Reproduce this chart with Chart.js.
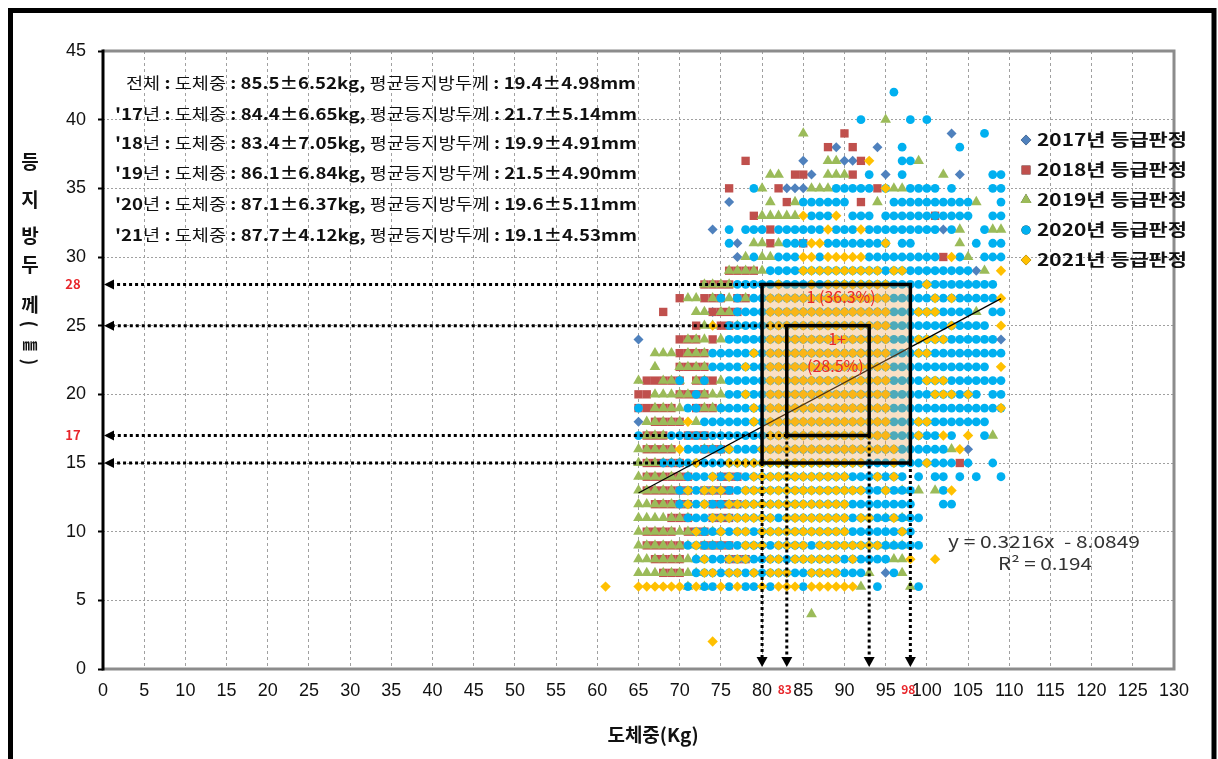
<!DOCTYPE html>
<html><head><meta charset="utf-8">
<script src="https://cdn.jsdelivr.net/npm/chart.js@4.4.1/dist/chart.umd.min.js"></script>
<style>html,body{margin:0;padding:0;background:#fff;}canvas{display:block;}</style>
</head><body>
<canvas id="c" width="1218" height="759"></canvas>
<script>
// ---------- data (x = 도체중 kg, rows "y(mm): x values / runs of x") ----------
const seriesNames = ['2017년 등급판정','2018년 등급판정','2019년 등급판정','2020년 등급판정','2021년 등급판정'];
const d2017 = [
 "7: 95","16: 105","18: 65","24: 65 109","26: 74","29: 106","30: 77","31: 77",
 "32: 74 102","34: 76","35: 83-85","36: 86 95 104","37: 85 90-91","38: 89 94","39: 103"
];
const d2018 = [
 "7: 68-70","8: 67-70 76-78","9: 66-70 73-76","10: 66-69 71-73","11: 69-71 74-76",
 "12: 67-71 74-77","13: 66-71 73-76","14: 66-71 75-77","15: 66-70 104","16: 66-69 73-75",
 "17: 66-68 71-73","18: 67-70","19: 65-69 72-74","20: 65-66 70-73","21: 66-70 72-74",
 "22: 70-73","23: 70-73","24: 70-72 74","25: 72 75-76","26: 68 74-77","27: 70 73-75 77-78",
 "28: 73-76","29: 76-79","30: 102","31: 81 85","32: 81","33: 79 101","34: 83 92",
 "35: 76 82 94","36: 84-85 91","37: 78 92","38: 88 91","39: 90"
];
const d2019 = [
 "4: 86","6: 71 73 92 98","7: 65-72 93 97","8: 65-72 96-97","9: 65-71 73-75 95-97",
 "10: 65-71 73-74","11: 65-71 95 97","12: 65-70","13: 65-70 97 99 101","14: 65-71",
 "15: 65-70","16: 65-69 73-75 103","17: 66-68 108","18: 66-70 72","19: 67-70 73-75",
 "20: 67-71 73-75","21: 65 68-70 72-73 75","22: 67 70-73","23: 67-69 71-73","24: 71-73 75",
 "25: 73-74 77","26: 72-73 75-76 106","27: 71-72 74-76 78","28: 73-76","29: 76-80 107",
 "30: 78 80-81 105","31: 79-80 82 104","32: 104 108-109","33: 80-84","34: 81 84 94 106",
 "35: 80 86-88 96-97","36: 81-82 88-90 102","37: 88-89 99","39: 85","40: 95"
];
const d2020 = [
 "6: 71 73-74 76 78-79 81 85 94 99","7: 72-92 96","8: 72-95","9: 71-99","10: 72-98","11: 71-99",
 "12: 70-98 102-103","13: 70-98 102","14: 71-97 99 101-102 104 106 109","15: 68-103 105 108",
 "16: 71-102","17: 65 69-101 103 107","18: 73-107","19: 65 71-72 75-109","20: 72 76-106 108-109",
 "21: 70 73 76-109","22: 74-107","23: 74-109","24: 76-108","25: 76-107","26: 77-105 108-109",
 "27: 75 77 79-108","28: 77-108","29: 81-105","30: 79 82-84 87 93-101 104 107-109",
 "31: 76 83-85 88-95 97-98 106 108-109","32: 76 78-80 82-87 89-91 93-101 103 107",
 "33: 86-88 91-93 95-105 108-109","34: 85-90 96-105 109","35: 79 89-93 95 98-101 103 108-109",
 "36: 93 97 108-109","37: 97-98","38: 97 104","39: 107","40: 92 98 100","42: 96"
];
const d2021 = [
 "2: 74","6: 61 65-70 72 75 77 80 82-84 86-91","7: 73-74 76-77 79 81-83 86-89",
 "8: 73 76-78 81-82 84-89 91 98 101","9: 72 78-80 82-85 87-94","10: 72 75 77-78 80-90 97",
 "11: 74-81 83-90 92-93 96","12: 71 73 76-90","13: 71 73-75 78-92 95 103","14: 74 76 79-90 94 96",
 "15: 72 76-92 96 100","16: 70 76 80-96 104","17: 81-95 99 102 105","18: 71 79 81-95 99-100",
 "19: 79 81-95 109","20: 78 81-95 101-103 105","21: 81-95 100-102","22: 78 81-95 109",
 "23: 79 81-95 99-100","24: 81-95 99-102","25: 74 81-95 103 109","26: 81-95 99-101",
 "27: 81-95 101 103 109","28: 82 86 88-95 100","29: 85-94 96-97 109","30: 85-86 88-92 103",
 "31: 86-87 95","32: 88 92","33: 85 89","35: 95","37: 93"
];
const trendSlope = 0.3216, trendIntercept = -8.0849;
const trendX = [65, 109];
const summaryLines = [
 "전체 : 도체중 : 85.5±6.52kg, 평균등지방두께 : 19.4±4.98mm",
 "'17년 : 도체중 : 84.4±6.65kg, 평균등지방두께 : 21.7±5.14mm",
 "'18년 : 도체중 : 83.4±7.05kg, 평균등지방두께 : 19.9±4.91mm",
 "'19년 : 도체중 : 86.1±6.84kg, 평균등지방두께 : 21.5±4.90mm",
 "'20년 : 도체중 : 87.1±6.37kg, 평균등지방두께 : 19.6±5.11mm",
 "'21년 : 도체중 : 87.7±4.12kg, 평균등지방두께 : 19.1±4.53mm"
];
const gradeBoxes = [ {x0:80,x1:98,y0:15,y1:28}, {x0:83,x1:93,y0:17,y1:25} ];
const gradeLabels = [ ["1 (36.3%)"], ["1+","(28.5%)"] ];
const hArrows = [[28,80],[25,83],[17,83],[15,80]];   // [y, from x]
const vArrows = [[80,15],[83,17],[93,17],[98,15]];   // [x, from y]
const redYTicks = [28,17];
const redXTicks = [83,98];
const yTitleChars = ['등','지','방','두','께'];
const yTitleUnit = ['(','㎜',')'];
const xTitle = '도체중(Kg)';
const eqLines = ['y = 0.3216x  - 8.0849','R² = 0.194'];

// ---------- styles ----------
const colors = ['#4F81BD','#C0504D','#9BBB59','#00B0F0','#FFC000'];
const styles = ['rectRot','rect','triangle','circle','rectRot'];
const radii = [5,5.9,6.2,4.4,5.2];
const KR = '"Noto Sans CJK KR", "Noto Sans", sans-serif';

function parseRows(rows){
  const pts = [];
  rows.forEach(r=>{
    const [ys, xs] = r.split(':');
    const y = Number(ys);
    xs.trim().split(/\s+/).forEach(t=>{
      if(t.includes('-')){ const [a,b]=t.split('-').map(Number); for(let x=a;x<=b;x++) pts.push({x,y}); }
      else pts.push({x:Number(t),y});
    });
  });
  return pts;
}
const allRows = [d2017,d2018,d2019,d2020,d2021];
const datasets = allRows.map((rows,i)=>({
  type:'scatter', label:seriesNames[i], data:parseRows(rows),
  pointStyle:styles[i], pointRadius:radii[i], pointBackgroundColor:colors[i],
  pointBorderWidth:0, borderWidth:0, order:5-i
}));
datasets.push({
  type:'line', label:'trend', data:trendX.map(x=>({x, y:trendSlope*x+trendIntercept})),
  borderColor:'#000', borderWidth:1.3, pointRadius:0, fill:false, order:0
});

function drawFitted(ctx, text, x, y, targetW, size, weightFn){
  const segs = text.split(/([\uAC00-\uD7A3]+)/).filter(s=>s.length);
  let total = 0;
  const ws = segs.map(s=>{ ctx.font = weightFn(s)+' '+size+'px '+KR; const w = ctx.measureText(s).width; total += w; return w; });
  const sc = targetW/total;
  ctx.save(); ctx.translate(x,y); ctx.scale(sc,1);
  let cx = 0;
  segs.forEach((s,i)=>{ ctx.font = weightFn(s)+' '+size+'px '+KR; ctx.fillText(s,cx,0); cx += ws[i]; });
  ctx.restore();
}
function dotted(ctx,x1,y1,x2,y2){
  ctx.save(); ctx.strokeStyle='#000'; ctx.lineWidth=3; ctx.setLineDash([3,3]);
  ctx.beginPath(); ctx.moveTo(x1,y1); ctx.lineTo(x2,y2); ctx.stroke(); ctx.restore();
}
function head(ctx,tx,ty,dir){
  ctx.beginPath();
  if(dir==='left'){ ctx.moveTo(tx,ty); ctx.lineTo(tx+10,ty-5); ctx.lineTo(tx+10,ty+5); }
  else { ctx.moveTo(tx,ty); ctx.lineTo(tx-5.5,ty-10); ctx.lineTo(tx+5.5,ty-10); }
  ctx.closePath(); ctx.fillStyle='#000'; ctx.fill();
}

const overlay = {
  id:'overlay',
  afterDraw(chart){
    const {ctx} = chart; const xs = chart.scales.x, ys = chart.scales.y;
    const px = v=>xs.getPixelForValue(v), py = v=>ys.getPixelForValue(v);
    const ca = chart.chartArea;
    ctx.save();
    // grade box fill (outer)
    const ob = gradeBoxes[0];
    ctx.fillStyle = 'rgba(240,160,70,0.32)';
    ctx.fillRect(px(ob.x0), py(ob.y1), px(ob.x1)-px(ob.x0), py(ob.y0)-py(ob.y1));
    // arrows
    hArrows.forEach(([y,x0])=>{ dotted(ctx, px(x0), py(y), ca.left+10, py(y)); head(ctx, ca.left+1, py(y), 'left'); });
    vArrows.forEach(([x,y0])=>{ dotted(ctx, px(x), py(y0), px(x), ca.bottom-10); head(ctx, px(x), ca.bottom-2, 'down'); });
    // box borders
    ctx.strokeStyle='#000'; ctx.lineWidth=3.5;
    gradeBoxes.forEach(b=>{ ctx.strokeRect(px(b.x0), py(b.y1), px(b.x1)-px(b.x0), py(b.y0)-py(b.y1)); });
    // box labels
    ctx.fillStyle='#E8262B'; ctx.font='16px '+KR; ctx.textAlign='center'; ctx.textBaseline='middle';
    ctx.fillText(gradeLabels[0][0], px(89.6), py(27.1));
    ctx.fillText(gradeLabels[1][0], px(89.1), py(24.0));
    ctx.fillText(gradeLabels[1][1], px(88.9), py(22.1));
    // red tick labels
    ctx.font='bold 13px '+KR;
    redYTicks.forEach(v=>ctx.fillText(String(v), 73, py(v)));
    ctx.font='bold 12px '+KR;
    redXTicks.forEach(v=>ctx.fillText(String(v), px(v)-2, 689));
    // plot frame
    ctx.lineWidth=3; ctx.strokeStyle='#8c8c8c';
    ctx.beginPath(); ctx.moveTo(ca.left, ca.top); ctx.lineTo(ca.right, ca.top); ctx.lineTo(ca.right, ca.bottom); ctx.lineTo(ca.left, ca.bottom); ctx.stroke();
    ctx.strokeStyle='#000';
    ctx.beginPath(); ctx.moveTo(ca.left, ca.top-1.5); ctx.lineTo(ca.left, ca.bottom+1.5); ctx.stroke();
    // summary text
    ctx.fillStyle='#111'; ctx.textAlign='left'; ctx.textBaseline='middle';
    const ly = [83,114,143,173,204,235];
    summaryLines.forEach((t,i)=>{
      drawFitted(ctx, t, i===0?126:115, ly[i], i===0?510:522, 16, s=>/[\uAC00-\uD7A3]/.test(s)?'normal':'bold');
    });
    // legend
    const legY = [140,170,200,230,260];
    seriesNames.forEach((n,i)=>{
      Chart.helpers.drawPoint(ctx, {pointStyle:styles[i], radius:[5.2,6.2,6.2,4.6,5.2][i], borderWidth:0, rotation:0}, 1026, legY[i]);
      ctx.fillStyle=colors[i]; ctx.fill();
      ctx.fillStyle='#111';
      drawFitted(ctx, n, 1037, legY[i], 150, 17, ()=> 'bold');
    });
    // equation
    ctx.fillStyle='#333';
    drawFitted(ctx, eqLines[0], 948, 542, 192, 17, ()=> 'normal');
    drawFitted(ctx, eqLines[1], 998, 564, 94, 17, ()=> 'normal');
    // axis titles
    ctx.fillStyle='#111'; ctx.textAlign='center';
    const yc = [162,200,236,265,305];
    yTitleChars.forEach((c,i)=>{ ctx.font = 'bold 19px '+KR; ctx.fillText(c, 30, yc[i]); });
    // unit: parentheses rotated to sit vertically
    ctx.font='bold 18px '+KR;
    [[yTitleUnit[0],324],[yTitleUnit[2],362]].forEach(([c,yy])=>{
      ctx.save(); ctx.translate(30,yy); ctx.rotate(Math.PI/2); ctx.fillText(c,0,0); ctx.restore();
    });
    ctx.font='bold 15px '+KR; ctx.fillText(yTitleUnit[1], 30, 344);
    ctx.font='bold 19px '+KR; ctx.fillText(xTitle, 653, 735);
    // outer frame
    ctx.strokeStyle='#000'; ctx.lineWidth=5;
    ctx.beginPath(); ctx.moveTo(10.5, 770); ctx.lineTo(10.5,10.5); ctx.lineTo(1214,10.5); ctx.lineTo(1214,770); ctx.stroke();
    ctx.restore();
  }
};

new Chart(document.getElementById('c'), {
  data:{ datasets },
  options:{
    responsive:false, animation:false, events:[],
    layout:{ padding:{ top:51, right:44, bottom:0, left:0 }, autoPadding:false },
    plugins:{ legend:{display:false}, tooltip:{enabled:false} },
    scales:{
      x:{ type:'linear', min:0, max:130,
        ticks:{ stepSize:5, autoSkip:false, maxRotation:0, padding:11, color:'#111', font:{family:'"Liberation Sans", sans-serif', size:18} },
        grid:{ color:c=>(c.tick && (c.tick.value===0||c.tick.value===130))?'rgba(0,0,0,0)':'#a0a0a0', lineWidth:1, drawTicks:false },
        border:{ display:false, dash:[3,3] },
        afterFit(s){ s.height = 90; } },
      y:{ type:'linear', min:0, max:45,
        ticks:{ stepSize:5, padding:12, color:'#111', font:{family:'"Liberation Sans", sans-serif', size:18} },
        grid:{ color:c=>(c.tick && (c.tick.value===0||c.tick.value===45))?'rgba(0,0,0,0)':'#a0a0a0', lineWidth:1, drawTicks:true, tickLength:5, tickWidth:2, tickColor:'#000', tickBorderDash:[] },
        border:{ display:false, dash:[2,2] },
        afterFit(s){ s.width = 103; } }
    }
  },
  plugins:[overlay]
});
</script>
</body></html>
